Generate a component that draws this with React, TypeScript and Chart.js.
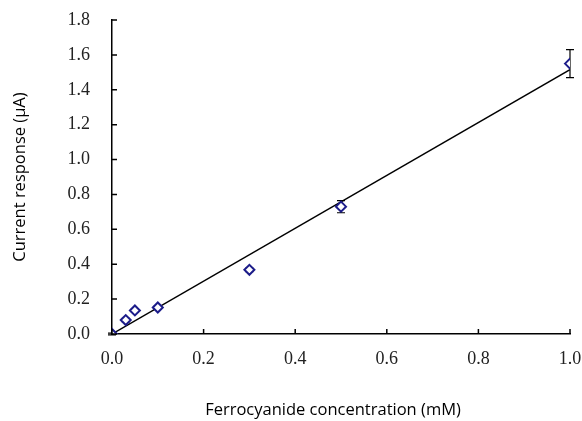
import React, { useEffect, useRef } from "react";
import { Chart, registerables } from "chart.js";

Chart.register(...registerables);

const concentrations = [0, 0.03, 0.05, 0.1, 0.3, 0.5, 1.0];
const responses = [0, 0.08, 0.135, 0.152, 0.368, 0.73, 1.55];
const errors = [0.005, 0.01, 0.01, 0.01, 0.01, 0.035, 0.08];
const fitX = [0, 1.0];
const fitY = [0, 1.515];
const xTicks = [0, 0.2, 0.4, 0.6, 0.8, 1.0];
const yTicks = [0, 0.2, 0.4, 0.6, 0.8, 1.0, 1.2, 1.4, 1.6, 1.8];
const xTitle = "Ferrocyanide concentration (mM)";
const yTitle = "Current response (μA)";

const MARK = "#1c1c8a";
const TITLE_FONT = "16.5px 'Open Sans', sans-serif";

const errorBarPlugin = {
  id: "errorBars",
  beforeDatasetsDraw(chart: any) {
    const ctx = chart.ctx;
    const xs = chart.scales.x;
    const ys = chart.scales.y;
    ctx.save();
    ctx.strokeStyle = "#000";
    ctx.lineWidth = 1.2;
    concentrations.forEach((c, i) => {
      const px = xs.getPixelForValue(c);
      const top = ys.getPixelForValue(responses[i] + errors[i]);
      const bot = ys.getPixelForValue(responses[i] - errors[i]);
      ctx.beginPath();
      ctx.moveTo(px, top);
      ctx.lineTo(px, bot);
      ctx.moveTo(px - 4, top);
      ctx.lineTo(px + 4, top);
      ctx.moveTo(px - 4, bot);
      ctx.lineTo(px + 4, bot);
      ctx.stroke();
    });
    ctx.restore();
  },
};

const tickPlugin = {
  id: "innerTicks",
  afterDraw(chart: any) {
    const ctx = chart.ctx;
    const xs = chart.scales.x;
    const ys = chart.scales.y;
    const { left, bottom } = chart.chartArea;
    ctx.save();
    ctx.strokeStyle = "#000";
    ctx.lineWidth = 1.5;
    ctx.beginPath();
    xTicks.forEach((t) => {
      const px = xs.getPixelForValue(t);
      ctx.moveTo(px, bottom);
      ctx.lineTo(px, bottom - 5);
    });
    yTicks.forEach((t) => {
      const py = ys.getPixelForValue(t);
      ctx.moveTo(left, py);
      ctx.lineTo(left + 5, py);
    });
    ctx.stroke();
    // x axis title
    ctx.fillStyle = "#000";
    ctx.font = TITLE_FONT;
    ctx.textAlign = "center";
    ctx.textBaseline = "middle";
    const cx = (chart.chartArea.left + chart.chartArea.right) / 2 - 8;
    ctx.fillText(xTitle, cx, 410);
    ctx.restore();
  },
};

export default function App() {
  const ref = useRef<HTMLCanvasElement>(null);
  useEffect(() => {
    const chart = new Chart(ref.current!, {
      type: "scatter",
      data: {
        datasets: [
          {
            label: "data",
            data: concentrations.map((c, i) => ({ x: c, y: responses[i] })),
            pointStyle: "rectRot",
            pointRadius: 5,
            pointBorderWidth: 2,
            borderColor: MARK,
            backgroundColor: "#fff",
            order: 1,
          },
          {
            label: "fit",
            data: fitX.map((x, i) => ({ x, y: fitY[i] })),
            showLine: true,
            pointRadius: 0,
            borderColor: "#000",
            borderWidth: 1.5,
            order: 2,
          },
        ],
      },
      options: {
        animation: false,
        responsive: false,
        devicePixelRatio: 1,
        layout: { padding: { top: 20, right: 12, left: 0, bottom: 0 } },
        plugins: { legend: { display: false }, tooltip: { enabled: false } },
        scales: {
          x: {
            type: "linear",
            min: 0,
            max: 1,
            afterFit: (s: any) => {
              s.height = 87;
              s.paddingLeft = 0;
              s.paddingRight = 0;
            },
            afterBuildTicks: (s: any) => {
              s.ticks = xTicks.map((v) => ({ value: v }));
            },
            grid: { display: true, drawOnChartArea: false, drawTicks: false },
            border: { display: true, color: "#000", width: 1.5 },
            ticks: {
              padding: 14,
              color: "#222",
              font: { family: "'Liberation Serif', serif", size: 18 },
              callback: (v: any) => Number(v).toFixed(1),
            },
          },
          y: {
            type: "linear",
            min: 0,
            max: 1.8,
            afterFit: (s: any) => {
              s.width = 112;
              s.paddingTop = 0;
              s.paddingBottom = 0;
            },
            afterBuildTicks: (s: any) => {
              s.ticks = yTicks.map((v) => ({ value: v }));
            },
            grid: { display: true, drawOnChartArea: false, drawTicks: false },
            border: { display: true, color: "#000", width: 1.5 },
            ticks: {
              padding: 22,
              color: "#222",
              font: { family: "'Liberation Serif', serif", size: 18 },
              callback: (v: any) => Number(v).toFixed(1),
            },
            title: {
              display: true,
              text: yTitle,
              color: "#000",
              font: { family: "'Open Sans', sans-serif", size: 16.5 },
              padding: { top: 10, bottom: 0 },
            },
          },
        },
      },
      plugins: [errorBarPlugin, tickPlugin],
    });
    return () => chart.destroy();
  }, []);
  return (
    <div style={{ position: "fixed", left: 0, top: 0, width: 582, height: 421, background: "#fff" }}>
      <canvas ref={ref} width={582} height={421} />
    </div>
  );
}
